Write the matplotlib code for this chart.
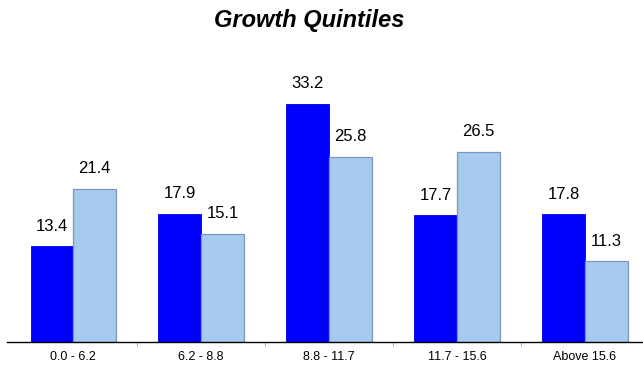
import matplotlib
matplotlib.use("Agg")
import matplotlib.pyplot as plt
import numpy as np

categories = ["0.0 - 6.2", "6.2 - 8.8", "8.8 - 11.7", "11.7 - 15.6", "Above 15.6"]
series_a = [13.4, 17.9, 33.2, 17.7, 17.8]
series_b = [21.4, 15.1, 25.8, 26.5, 11.3]

plt.rcParams['font.family'] = ['Liberation Sans', 'DejaVu Sans']

fig = plt.figure(figsize=(6.43, 3.67), dpi=100)
ax = fig.add_axes([9.3/643, 1 - 342.4/367, 639.5/643, 287.6/367])

x = np.arange(len(categories))
w = 0.334
b1 = ax.bar(x - w/2, series_a, w, color="#0000FF", edgecolor="#0000DD", linewidth=0.6)
b2 = ax.bar(x + w/2, series_b, w, color="#A6CAF0", edgecolor="#7A96B8", linewidth=0.9)

for bars, vals in ((b1, series_a), (b2, series_b)):
    for r, v in zip(bars, vals):
        ax.annotate(f"{v:.1f}", (r.get_x() + r.get_width()/2, v),
                    xytext=(0, 9), textcoords="offset points",
                    ha="center", va="bottom", fontsize=12)

ax.set_xlim(-0.5, 4.5)
ax.set_ylim(0, 40)
ax.set_yticks([])
for s in ("top", "right", "left"):
    ax.spines[s].set_visible(False)
ax.spines["bottom"].set_linewidth(1.0)
ax.spines["bottom"].set_bounds(-0.52, 4.5)
ax.set_xticks(x)
ax.set_xticklabels(categories, fontsize=9)
ax.tick_params(axis="x", which="major", length=0, pad=6)
ax.set_xticks(np.arange(0.5, 4.5, 1), minor=True)
ax.tick_params(axis="x", which="minor", length=3, color="#999999")

fig.text(309/643, 1 - 20/367, "Growth Quintiles", ha="center", va="center",
         fontsize=17, fontweight="bold", fontstyle="italic")

fig.savefig("out.png", dpi=100)
